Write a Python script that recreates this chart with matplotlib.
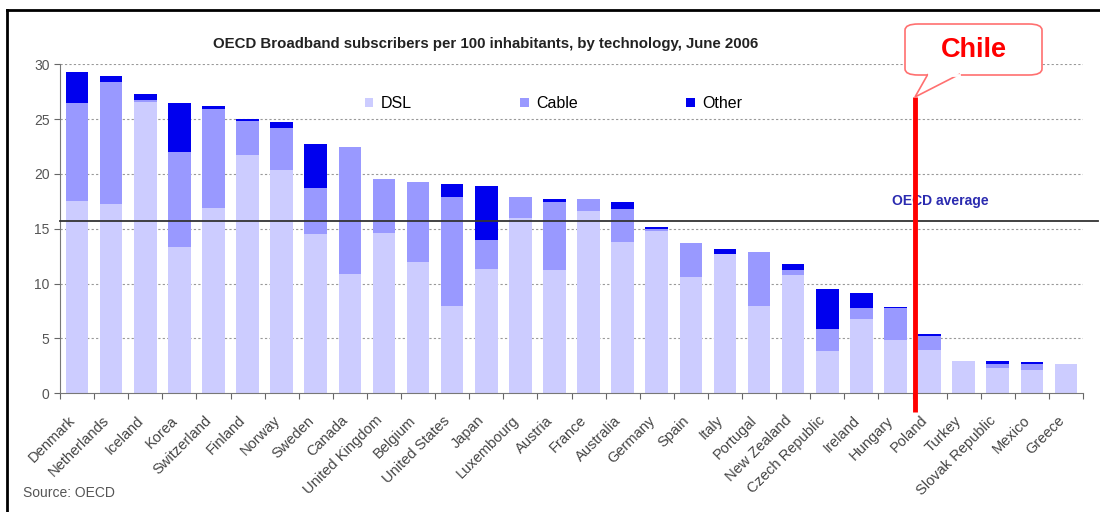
import matplotlib
matplotlib.use("Agg")
import matplotlib.pyplot as plt
import matplotlib.transforms as mtransforms
from matplotlib.patches import FancyBboxPatch, Polygon
from matplotlib.lines import Line2D
import numpy as np

plt.rcParams["font.family"] = ["Liberation Sans", "DejaVu Sans"]

countries = ["Denmark", "Netherlands", "Iceland", "Korea", "Switzerland", "Finland",
             "Norway", "Sweden", "Canada", "United Kingdom", "Belgium", "United States",
             "Japan", "Luxembourg", "Austria", "France", "Australia", "Germany", "Spain",
             "Italy", "Portugal", "New Zealand", "Czech Republic", "Ireland", "Hungary",
             "Poland", "Turkey", "Slovak Republic", "Mexico", "Greece"]
dsl = [17.5, 17.3, 26.6, 13.3, 16.9, 21.7, 20.4, 14.5, 10.9, 14.6, 12.0, 8.0,
       11.3, 16.0, 11.2, 16.6, 13.8, 14.8, 10.6, 12.7, 8.0, 10.8, 3.9, 6.8, 4.9,
       3.95, 2.95, 2.3, 2.1, 2.7]
cable = [9.0, 11.1, 0.1, 8.7, 9.0, 3.1, 3.8, 4.2, 11.6, 4.9, 7.3, 9.9,
         2.7, 1.9, 6.2, 1.1, 3.0, 0.2, 3.1, 0.0, 4.9, 0.4, 2.0, 1.0, 2.9,
         1.3, 0.0, 0.4, 0.6, 0.0]
other = [2.8, 0.5, 0.6, 4.5, 0.3, 0.2, 0.5, 4.0, 0.0, 0.0, 0.0, 1.2,
         4.9, 0.0, 0.3, 0.0, 0.6, 0.2, 0.05, 0.45, 0.0, 0.55, 3.6, 1.35, 0.1,
         0.13, 0.0, 0.2, 0.15, 0.0]
oecd_avg = 15.7
chile_pos = 24.57

W, H = 1100, 512
def px(x, y):
    return (x / W, 1 - y / H)

fig = plt.figure(figsize=(11, 5.12), dpi=100)
fig.patch.set_facecolor("white")
ax = fig.add_axes([60 / W, 1 - 393.3 / H, (1083 - 60) / W, (393.3 - 64.3) / H])

x = np.arange(len(countries))
dsl = np.array(dsl); cable = np.array(cable); other = np.array(other)
bw = 0.66
ax.bar(x, dsl, bw, color="#ccccff", label="DSL", zorder=2)
ax.bar(x, cable, bw, bottom=dsl, color="#9999ff", label="Cable", zorder=2)
ax.bar(x, other, bw, bottom=dsl + cable, color="#0000ee", label="Other", zorder=2)

ax.set_xlim(-0.5, len(countries) - 0.5)
ax.set_ylim(0, 30)
ax.set_yticks(range(0, 31, 5))
for v in range(5, 31, 5):
    ax.axhline(v, color="#999999", lw=0.8, ls=(0, (2, 2)), zorder=1)

# ticks at category boundaries, labels at centres
ax.set_xticks(np.arange(-0.5, len(countries)), minor=False)
ax.set_xticklabels([])
ax.tick_params(axis="x", which="major", direction="out", length=4, color="#666666")
ax.tick_params(axis="y", direction="out", length=4, color="#666666",
               labelsize=10, labelcolor="#555555")
for s in ["top", "right"]:
    ax.spines[s].set_visible(False)
for s in ["left", "bottom"]:
    ax.spines[s].set_color("#777777")

off = mtransforms.ScaledTranslation(-0.09, -0.2, fig.dpi_scale_trans)
for i, c in enumerate(countries):
    ax.text(i, 0, c, rotation=45, rotation_mode="anchor", ha="right", va="top",
            fontsize=10.5, color="#444444",
            transform=ax.get_xaxis_transform() + off)

# OECD average
ax.axhline(oecd_avg, xmax=1.015, color="#333333", lw=1.3, zorder=3, clip_on=False)
ax.text(23.9, oecd_avg + 1.8, "OECD average", color="#2b2bb0", fontsize=10,
        fontweight="bold", va="center", ha="left")

# Chile line
ax.plot([chile_pos, chile_pos], [27.0, -1.7], color="red", lw=3.5, zorder=5,
        clip_on=False, solid_capstyle="butt")

ax.legend(loc="upper left", bbox_to_anchor=px(354, 85), bbox_transform=fig.transFigure,
          ncol=3, frameon=False, fontsize=11.5, handlelength=0.52, handleheight=0.52,
          handletextpad=0.45, columnspacing=6.8, borderpad=0.2)

fig.text(*px(486, 44), "OECD Broadband subscribers per 100 inhabitants, by technology, June 2006",
         ha="center", va="center", fontsize=10.8, fontweight="bold", color="#222222")
fig.text(*px(23, 493), "Source: OECD", ha="left", va="center", fontsize=10, color="#555555")

# callout box
bx0, by0 = px(905, 75)
bx1, by1 = px(1042, 24)
box = FancyBboxPatch((bx0, by0), bx1 - bx0, by1 - by0,
                     boxstyle="round,pad=0,rounding_size=0.012",
                     transform=fig.transFigure, facecolor="white",
                     edgecolor="#ff7070", lw=1.2, zorder=10)
fig.add_artist(box)
tail = Polygon([px(928, 74), px(915, 97), px(960, 74)], closed=False,
               transform=fig.transFigure, facecolor="white", edgecolor="#ff7070",
               lw=1.2, zorder=11)
fig.add_artist(tail)
fig.add_artist(Line2D([px(929, 75)[0], px(959, 75)[0]], [px(0, 75)[1]] * 2,
                      transform=fig.transFigure, color="white", lw=2, zorder=12))
fig.text(*px(974, 50), "Chile", ha="center", va="center", fontsize=19.5,
         fontweight="bold", color="red", zorder=13)

# outer frame
fig.add_artist(Line2D([px(7, 0)[0], 1], [px(0, 10)[1]] * 2, transform=fig.transFigure,
                      color="black", lw=2))
fig.add_artist(Line2D([px(7, 0)[0]] * 2, [px(0, 10)[1], 0], transform=fig.transFigure,
                      color="black", lw=2))

fig.savefig("out.png", dpi=100)
